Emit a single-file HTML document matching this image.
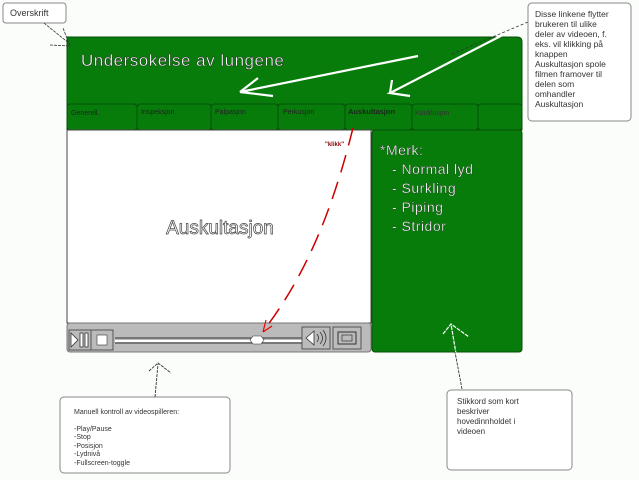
<!DOCTYPE html>
<html><head><meta charset="utf-8"><style>
html,body{margin:0;padding:0;background:#fbfdfb;}
svg{display:block;font-family:"Liberation Sans",sans-serif;}
</style></head><body>
<svg width="639" height="480" viewBox="0 0 639 480" xmlns="http://www.w3.org/2000/svg">
<rect width="639" height="480" fill="#fbfdfb"/>
<!-- main green panel -->
<path d="M67,37 H517 Q522,37 522,42 V130 H67 Z" fill="#077c0b" stroke="#064f08"/>
<text x="81" y="66" font-size="17" fill="#fff" stroke="#222" stroke-width="0.4" letter-spacing="0.5">Undersokelse av lungene</text>
<!-- tabs -->
<g fill="#077c0b" stroke="#064f08" stroke-width="1">
<rect x="67" y="104" width="70" height="26" rx="3"/>
<rect x="137" y="104" width="74" height="26" rx="3"/>
<rect x="211" y="104" width="67" height="26" rx="3"/>
<rect x="278" y="104" width="67" height="26" rx="3"/>
<rect x="345" y="104" width="67" height="26" rx="3"/>
<rect x="412" y="104" width="66" height="26" rx="3"/>
<rect x="478" y="104" width="44" height="26" rx="3"/>
</g>
<g font-size="7" fill="#222">
<text x="71" y="115">Generell.</text>
<text x="141" y="114">Inspeksjon</text>
<text x="215" y="114">Palpasjon</text>
<text x="283" y="114">Perkusjon</text>
<text x="348" y="114" font-weight="bold" font-size="7.5">Auskultasjon</text>
<text x="415" y="115" fill="#333">Konklusjon</text>
</g>
<!-- video area -->
<rect x="67" y="130" width="304" height="193" fill="#fff" stroke="#444"/>
<text x="220" y="234" text-anchor="middle" font-size="19" fill="#fff" stroke="#444" stroke-width="0.7">Auskultasjon</text>
<text x="325" y="146" font-size="6" fill="#800" font-weight="bold">"klikk"</text>
<!-- right panel -->
<rect x="372" y="130" width="150" height="222" rx="3" fill="#077c0b" stroke="#064f08"/>
<g font-size="14" fill="#fff" stroke="#222" stroke-width="0.3" letter-spacing="0.5">
<text x="380" y="155">*Merk:</text>
<text x="392" y="174">- Normal lyd</text>
<text x="392" y="193">- Surkling</text>
<text x="392" y="212">- Piping</text>
<text x="392" y="231">- Stridor</text>
</g>
<!-- controls -->
<rect x="67" y="323" width="304" height="29" rx="3" fill="#bbb" stroke="#777"/>
<rect x="69" y="330" width="22" height="20" fill="#bbb" stroke="#555"/>
<path d="M71,333 L78,340 L71,347 Z" fill="#fff" stroke="#333" stroke-width="0.8"/>
<rect x="80" y="333" width="3" height="14" fill="#fff" stroke="#333" stroke-width="0.8"/>
<rect x="85" y="333" width="3" height="14" fill="#fff" stroke="#333" stroke-width="0.8"/>
<rect x="91" y="330" width="22" height="20" fill="#bbb" stroke="#555"/>
<rect x="97" y="335" width="10" height="10" fill="#fff" stroke="#333" stroke-width="0.6"/>
<line x1="115" y1="338" x2="302" y2="338" stroke="#333"/>
<line x1="115" y1="341" x2="302" y2="341" stroke="#fff" stroke-width="2"/>
<line x1="115" y1="343" x2="302" y2="343" stroke="#333"/>
<path d="M253,336 h8 l3,4 l-3,4 h-8 l-3,-4 Z" fill="#fff" stroke="#333" stroke-width="0.6"/>
<rect x="302" y="327" width="28" height="22" fill="#bbb" stroke="#555"/>
<path d="M306,338 L314,331 V345 Z" fill="#fff" stroke="#333" stroke-width="0.8"/>
<path d="M317,334 q3,4 0,8 M320,332 q5,6 0,12 M323,330 q6,8 0,16" fill="none" stroke="#333" stroke-width="0.8"/>
<rect x="333" y="327" width="28" height="22" fill="#bbb" stroke="#555"/>
<rect x="338" y="332" width="18" height="12" fill="none" stroke="#333"/>
<rect x="342" y="335" width="10" height="6" fill="none" stroke="#333" stroke-width="0.7"/>
<!-- red dashed connector -->
<path d="M353,128 C335,200 310,270 264,330" fill="none" stroke="#c00" stroke-width="1.5" stroke-dasharray="18,10"/>
<path d="M263,332 L266,320 M263,332 L272,326" stroke="#e00" stroke-width="1.2" fill="none"/>
<!-- white arrows -->
<path d="M418,56 L240,92 L273,96 M240,92 L258,78" fill="none" stroke="#fff" stroke-width="2.2"/>
<path d="M528,22 L390,93 L410,96 M390,93 L392,80" fill="none" stroke="#fff" stroke-width="2.2"/>
<path d="M528,22 L450,55" fill="none" stroke="#333" stroke-width="0.8" stroke-dasharray="3,2"/>
<!-- overskrift callout -->
<rect x="3" y="3" width="63" height="20" rx="3" fill="#fff" stroke="#888"/>
<text x="10" y="16" font-size="9" fill="#333">Overskrift</text>
<path d="M44,23 L70,44 M50,45 L70,46 L63,28" fill="none" stroke="#333" stroke-width="0.8" stroke-dasharray="3,1"/>
<!-- right top callout -->
<rect x="528" y="3" width="103" height="118" rx="4" fill="#fff" stroke="#888"/>
<g font-size="8.5" fill="#333">
<text x="535" y="17">Disse linkene flytter</text>
<text x="535" y="27">brukeren til ulike</text>
<text x="535" y="37">deler av videoen, f.</text>
<text x="535" y="47">eks. vil klikking på</text>
<text x="535" y="57">knappen</text>
<text x="535" y="67">Auskultasjon spole</text>
<text x="535" y="77">filmen framover til</text>
<text x="535" y="87">delen som</text>
<text x="535" y="97">omhandler</text>
<text x="535" y="107">Auskultasjon</text>
</g>
<!-- bottom left callout -->
<rect x="60" y="397" width="170" height="76" rx="4" fill="#fff" stroke="#888"/>
<g font-size="7" fill="#333">
<text x="74" y="414">Manuell kontroll av videospilleren:</text>
<text x="74" y="431">-Play/Pause</text>
<text x="74" y="439">-Stop</text>
<text x="74" y="448">-Posisjon</text>
<text x="74" y="456">-Lydnivå</text>
<text x="74" y="465">-Fullscreen-toggle</text>
</g>
<path d="M155,397 L158,364 M149,371 L158,363 L171,373" fill="none" stroke="#333" stroke-width="0.9" stroke-dasharray="3,1"/>
<!-- bottom right callout -->
<rect x="447" y="390" width="125" height="80" rx="4" fill="#fff" stroke="#888"/>
<g font-size="8" fill="#333">
<text x="457" y="404">Stikkord som kort</text>
<text x="457" y="414">beskriver</text>
<text x="457" y="424">hovedinnholdet i</text>
<text x="457" y="434">videoen</text>
</g>
<path d="M462,389 L451,324 M443,334 L451,324 L469,337" fill="none" stroke="#fff" stroke-width="1.2" stroke-dasharray="4,1"/>
<path d="M462,389 L455,352" fill="none" stroke="#333" stroke-width="0.9" stroke-dasharray="3,1"/>
</svg>
</body></html>
